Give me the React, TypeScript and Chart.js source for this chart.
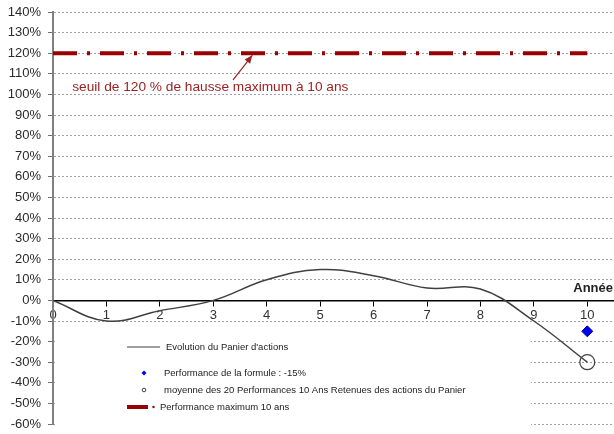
import React, { useEffect, useRef } from "react";
import { Chart, registerables } from "chart.js";

Chart.register(...registerables);

// ---------- data ----------
const years = [0, 1, 2, 3, 4, 5, 6, 7, 8, 9, 10];
const panierValues = [0, -10, -5, 0, 10, 15, 12, 6, 5.5, -10, -30];
const formuleYears = [10];
const formuleValues = [-15];
const moyenneYears = [10];
const moyenneValues = [-30];
const maxYears = [0, 10];
const maxValues = [120, 120];

const legendLabels = [
  "Evolution du Panier d'actions",
  "Performance de la formule : -15%",
  "moyenne des 20 Performances 10 Ans Retenues des actions du Panier",
  "Performance maximum 10 ans",
];

const yMin = -60;
const yMax = 140;
const yStep = 10;
const xMin = 0;
const xMax = 10.5;
const xTickValues = years;
const xAxisTitle = "Année";
const annotationText = "seuil de 120 % de hausse maximum à 10 ans";
// annotation anchor (data units)
const annotationAt = { x: 0.36, y: 103.6 };
const arrowFrom = { x: 3.37, y: 107 };
const arrowTo = { x: 3.73, y: 119 };

const FONT = "'Liberation Sans', Arial, sans-serif";
const DARK_RED = "#990000";

const toPts = (xs: number[], ys: number[]) => xs.map((x, i) => ({ x, y: ys[i] }));

const overlayPlugin = {
  id: "overlay",
  beforeDatasetsDraw(chart: any) {
    const { ctx, chartArea } = chart;
    const ds = chart.data.datasets;
    const L = chartArea.left;
    const B = chartArea.bottom;
    ctx.save();
    // legend box (white, no border)
    ctx.fillStyle = "#ffffff";
    ctx.fillRect(L + 2, B - 99, 476, 110);
    ctx.font = `9.5px ${FONT}`;
    ctx.fillStyle = "#222";
    ctx.textBaseline = "middle";
    ctx.textAlign = "left";
    // item 1: line
    let y = B - 77;
    ctx.strokeStyle = ds[0].borderColor;
    ctx.lineWidth = 1.2;
    ctx.beginPath();
    ctx.moveTo(L + 74, y);
    ctx.lineTo(L + 107, y);
    ctx.stroke();
    ctx.fillText(legendLabels[0], L + 113, y);
    // item 2: diamond
    y = B - 51;
    ctx.fillStyle = ds[1].backgroundColor;
    ctx.beginPath();
    ctx.moveTo(L + 91, y - 2.5);
    ctx.lineTo(L + 93.5, y);
    ctx.lineTo(L + 91, y + 2.5);
    ctx.lineTo(L + 88.5, y);
    ctx.closePath();
    ctx.fill();
    ctx.fillStyle = "#222";
    ctx.fillText(legendLabels[1], L + 111, y);
    // item 3: small circle
    y = B - 34;
    ctx.strokeStyle = ds[2].borderColor;
    ctx.lineWidth = 1;
    ctx.beginPath();
    ctx.arc(L + 91, y, 1.8, 0, Math.PI * 2);
    ctx.stroke();
    ctx.fillText(legendLabels[2], L + 111, y);
    // item 4: thick red line + dot
    y = B - 17;
    ctx.strokeStyle = ds[3].borderColor;
    ctx.lineWidth = 4;
    ctx.beginPath();
    ctx.moveTo(L + 74, y);
    ctx.lineTo(L + 95, y);
    ctx.stroke();
    ctx.fillStyle = ds[3].borderColor;
    ctx.beginPath();
    ctx.arc(L + 100.5, y, 1.2, 0, Math.PI * 2);
    ctx.fill();
    ctx.fillStyle = "#222";
    ctx.fillText(legendLabels[3], L + 107, y);
    ctx.restore();
  },
  afterDatasetsDraw(chart: any) {
    const { ctx, chartArea, scales } = chart;
    const xs = scales.x;
    const ys = scales.y;
    ctx.save();
    // annotation text
    ctx.font = `13.7px ${FONT}`;
    ctx.fillStyle = "#9c2121";
    ctx.textAlign = "left";
    ctx.textBaseline = "middle";
    ctx.fillText(annotationText, xs.getPixelForValue(annotationAt.x), ys.getPixelForValue(annotationAt.y));
    // arrow
    const x1 = xs.getPixelForValue(arrowFrom.x);
    const y1 = ys.getPixelForValue(arrowFrom.y);
    const x2 = xs.getPixelForValue(arrowTo.x);
    const y2 = ys.getPixelForValue(arrowTo.y);
    ctx.strokeStyle = "#9c2121";
    ctx.lineWidth = 1.2;
    ctx.beginPath();
    ctx.moveTo(x1, y1);
    ctx.lineTo(x2, y2);
    ctx.stroke();
    const ang = Math.atan2(y2 - y1, x2 - x1);
    const hl = 8;
    const hw = 3.5;
    ctx.fillStyle = "#9c2121";
    ctx.beginPath();
    ctx.moveTo(x2, y2);
    ctx.lineTo(x2 - hl * Math.cos(ang) + hw * Math.sin(ang), y2 - hl * Math.sin(ang) - hw * Math.cos(ang));
    ctx.lineTo(x2 - hl * Math.cos(ang) - hw * Math.sin(ang), y2 - hl * Math.sin(ang) + hw * Math.cos(ang));
    ctx.closePath();
    ctx.fill();
    // x axis title
    ctx.font = `bold 13px ${FONT}`;
    ctx.fillStyle = "#222";
    ctx.textAlign = "right";
    ctx.textBaseline = "middle";
    ctx.fillText(xAxisTitle, chartArea.right - 1, ys.getPixelForValue(0) - 12);
    ctx.restore();
  },
};

export default function App() {
  const canvasRef = useRef<HTMLCanvasElement | null>(null);

  useEffect(() => {
    if (!canvasRef.current) return;
    const chart = new Chart(canvasRef.current, {
      type: "scatter",
      data: {
        datasets: [
          {
            label: legendLabels[0],
            data: toPts(years, panierValues),
            showLine: true,
            borderColor: "#404040",
            borderWidth: 1.5,
            tension: 0.4,
            pointRadius: 0,
            order: 3,
          },
          {
            label: legendLabels[1],
            data: toPts(formuleYears, formuleValues),
            pointStyle: "rectRot",
            pointRadius: 5.5,
            backgroundColor: "#0000ff",
            borderColor: "#00008b",
            borderWidth: 1,
            order: 1,
          },
          {
            label: legendLabels[2],
            data: toPts(moyenneYears, moyenneValues),
            pointStyle: "circle",
            pointRadius: 7.5,
            backgroundColor: "rgba(0,0,0,0)",
            borderColor: "#404040",
            borderWidth: 1.2,
            order: 2,
          },
          {
            label: legendLabels[3],
            data: toPts(maxYears, maxValues),
            showLine: true,
            borderColor: DARK_RED,
            backgroundColor: DARK_RED,
            borderWidth: 4,
            borderDash: [24, 10, 3, 10],
            borderCapStyle: "butt",
            pointRadius: 0,
            order: 4,
          },
        ],
      },
      options: {
        responsive: false,
        animation: false,
        devicePixelRatio: 1,
        layout: { autoPadding: false, padding: { top: 12, right: 0, bottom: 10, left: 0 } },
        plugins: {
          legend: { display: false },
          tooltip: { enabled: false },
        },
        scales: {
          x: {
            type: "linear",
            min: xMin,
            max: xMax,
            position: { y: 0 } as any,
            afterBuildTicks: (s: any) => {
              s.ticks = xTickValues.map((v) => ({ value: v }));
            },
            afterFit: (s: any) => {
              s.paddingLeft = 0;
              s.paddingRight = 0;
              s.paddingTop = 0;
              s.paddingBottom = 0;
            },
            ticks: {
              stepSize: 1,
              color: "#333",
              font: { family: FONT, size: 13 },
              padding: 2,
              maxRotation: 0,
              autoSkip: false,
            },
            grid: {
              drawOnChartArea: false,
              drawTicks: true,
              tickLength: 5,
              tickColor: "#000",
              tickWidth: 1,
            },
            border: { display: true, color: "#000", width: 1.5 },
          },
          y: {
            type: "linear",
            min: yMin,
            max: yMax,
            afterFit: (s: any) => {
              s.width = 53;
              s.paddingTop = 0;
              s.paddingBottom = 0;
            },
            ticks: {
              stepSize: yStep,
              color: "#2a2a2a",
              font: { family: FONT, size: 13 },
              padding: 7,
              callback: (v: any) => `${v}%`,
            },
            grid: {
              color: "#a0a0a0",
              lineWidth: 1,
              drawTicks: true,
              tickLength: 5,
              tickColor: "#707070",
              tickWidth: 1,
            },
            border: { display: true, color: "#808080", width: 2, dash: [2, 2] },
          },
        },
      },
      plugins: [overlayPlugin],
    });
    return () => chart.destroy();
  }, []);

  return (
    <div style={{ position: "fixed", left: 0, top: 0, width: 614, height: 434, background: "#fff" }}>
      <canvas ref={canvasRef} width={614} height={434} style={{ display: "block" }} />
    </div>
  );
}
